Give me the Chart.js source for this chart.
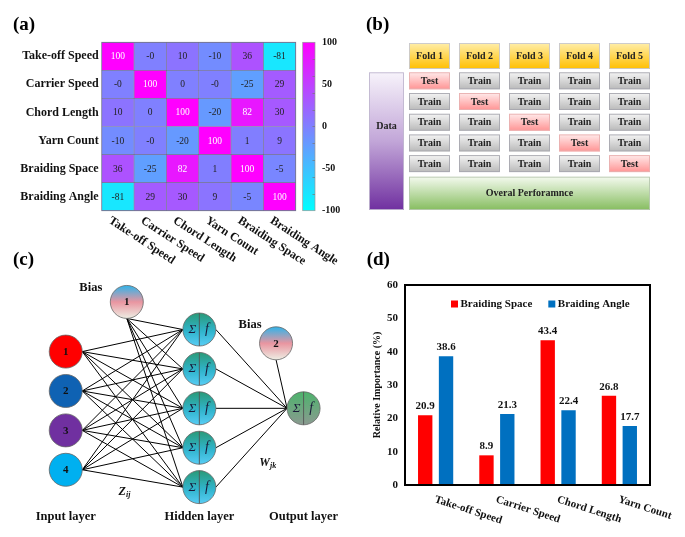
<!DOCTYPE html>
<html>
<head>
<meta charset="utf-8">
<script src="https://cdn.jsdelivr.net/npm/chart.js@4.4.1/dist/chart.umd.min.js"></script>
<style>
  body { margin: 0; background: #fff; }
  #page { position: relative; width: 685px; height: 537px; overflow: hidden; background: #fff; }
  canvas { position: absolute; }
</style>
</head>
<body>
<div id="page">
  <canvas id="heat" width="345" height="265" style="left:0;top:0"></canvas>
  <canvas id="cbar" width="60" height="265" style="left:296px;top:0"></canvas>
  <canvas id="folds" width="340" height="265" style="left:345px;top:0"></canvas>
  <canvas id="net" width="345" height="297" style="left:0;top:240px"></canvas>
  <canvas id="bars" width="340" height="297" style="left:345px;top:240px"></canvas>
</div>
<script>
const FONT = '"Liberation Serif", "Times New Roman", serif';

//DATA
// (a) correlation matrix
const params = ["Take-off Speed", "Carrier Speed", "Chord Length", "Yarn Count", "Braiding Space", "Braiding Angle"];
const corr = [
  [100, -0, 10, -10, 36, -81],
  [-0, 100, 0, -0, -25, 29],
  [10, 0, 100, -20, 82, 30],
  [-10, -0, -20, 100, 1, 9],
  [36, -25, 82, 1, 100, -5],
  [-81, 29, 30, 9, -5, 100],
];
const cbarTicks = [-100, -50, 0, 50, 100];

// (b) 5-fold cross validation
const folds = ["Fold 1", "Fold 2", "Fold 3", "Fold 4", "Fold 5"];
const testRowOfFold = [0, 1, 2, 3, 4];

// (c) network
const inputNodes = ["1", "2", "3", "4"];
const hiddenCount = 5;
const biasNodes = ["1", "2"];
const layerNames = ["Input layer", "Hidden layer", "Output layer"];

// (d) relative importance
const factors = ["Take-off Speed", "Carrier Speed", "Chord Length", "Yarn Count"];
const spaceImp = [20.9, 8.9, 43.4, 26.8];
const angleImp = [38.6, 21.3, 22.4, 17.7];
const impTicks = [0, 10, 20, 30, 40, 50, 60];

//HELPERS
function cool(v) {
  let t = (v + 100) / 200;
  return `rgb(${Math.round(255 * t)},${Math.round(255 * (1 - t))},255)`;
}
function fmt(v) {
  return Object.is(v, -0) ? "-0" : String(v);
}
function panelTitle(ctx, txt, x, y) {
  ctx.save();
  ctx.font = `bold 19px ${FONT}`;
  ctx.fillStyle = "#000";
  ctx.textAlign = "left";
  ctx.textBaseline = "alphabetic";
  ctx.fillText(txt, x, y);
  ctx.restore();
}
function vgrad(ctx, top, bottom, stops) {
  let g = ctx.createLinearGradient(0, top, 0, bottom);
  stops.forEach(([o, c]) => g.addColorStop(o, c));
  return g;
}

/////////////////////// (a) HEATMAP ///////////////////////
const heatDeco = {
  id: "heatDeco",
  afterDatasetsDraw(chart) {
    const { ctx, chartArea: a, scales: { x, y } } = chart;
    ctx.save();
    ctx.font = `9.5px ${FONT}`;
    ctx.textAlign = "center";
    ctx.textBaseline = "middle";
    chart.data.datasets.forEach((ds, j) => {
      chart.getDatasetMeta(j).data.forEach((bar, i) => {
        let v = corr[i][j];
        let c = bar.getCenterPoint();
        ctx.fillStyle = v > 60 ? "#ffffff" : "#222";
        ctx.fillText(fmt(v), c.x, c.y + 0.5);
      });
    });
    ctx.strokeStyle = "rgba(70,70,110,0.7)";
    ctx.lineWidth = 0.8;
    ctx.strokeRect(a.left, a.top, a.right - a.left, a.bottom - a.top);

    ctx.fillStyle = "#111";
    ctx.font = `bold 12px ${FONT}`;
    ctx.textAlign = "right";
    params.forEach((p, i) => ctx.fillText(p, a.left - 3, y.getPixelForValue(i)));

    ctx.textAlign = "left";
    ctx.textBaseline = "top";
    params.forEach((p, j) => {
      ctx.save();
      ctx.translate(x.getPixelForValue(j + 0.5) - 5, a.bottom + 4);
      ctx.rotate((33 * Math.PI) / 180);
      ctx.fillText(p, 0, 0);
      ctx.restore();
    });
    ctx.restore();
    panelTitle(ctx, "(a)", 13, 30);
  },
};

new Chart(document.getElementById("heat"), {
  type: "bar",
  data: {
    labels: params,
    datasets: params.map((p, j) => ({
      label: p,
      data: params.map(() => 1),
      backgroundColor: corr.map((row) => cool(row[j])),
      borderColor: "rgba(70,70,110,0.55)",
      borderWidth: 0.7,
      borderSkipped: false,
      categoryPercentage: 1,
      barPercentage: 1,
    })),
  },
  options: {
    indexAxis: "y",
    responsive: false,
    animation: false,
    layout: { padding: { left: 101.7, top: 42.3, right: 345 - 295.7, bottom: 265 - 210.7 } },
    plugins: { legend: { display: false }, tooltip: { enabled: false } },
    scales: {
      x: { stacked: true, min: 0, max: 6, display: false },
      y: { stacked: true, display: false },
    },
  },
  plugins: [heatDeco],
});

// colour bar
const cbarDeco = {
  id: "cbarDeco",
  afterDatasetsDraw(chart) {
    const { ctx, chartArea: a, scales: { y } } = chart;
    ctx.save();
    ctx.strokeStyle = "#999";
    ctx.lineWidth = 0.7;
    ctx.strokeRect(a.left, a.top, a.right - a.left, a.bottom - a.top);
    ctx.strokeStyle = "#777";
    for (let v = -80; v <= 80; v += 20) {
      let py = Math.round(y.getPixelForValue(v)) + 0.5;
      ctx.beginPath();
      ctx.moveTo(a.right - 2.5, py);
      ctx.lineTo(a.right, py);
      ctx.stroke();
    }
    ctx.restore();
  },
};

new Chart(document.getElementById("cbar"), {
  type: "bar",
  data: {
    labels: [""],
    datasets: [
      {
        data: [[-100, 100]],
        backgroundColor: (c) => {
          const a = c.chart.chartArea;
          if (!a) return cool(0);
          return vgrad(c.chart.ctx, a.bottom, a.top, [[0, cool(-100)], [0.5, cool(0)], [1, cool(100)]]);
        },
        categoryPercentage: 1,
        barPercentage: 1,
        borderSkipped: false,
      },
    ],
  },
  options: {
    responsive: false,
    animation: false,
    layout: { padding: { left: 6.7, top: 42.3, bottom: 265 - 210.7, right: 6 } },
    plugins: { legend: { display: false }, tooltip: { enabled: false } },
    scales: {
      x: { display: false },
      y: {
        position: "right",
        min: -100,
        max: 100,
        afterBuildTicks: (s) => {
          s.ticks = cbarTicks.map((v) => ({ value: v }));
        },
        afterFit: (s) => {
          s.width = 35;
        },
        grid: { display: false, drawTicks: false },
        border: { display: false },
        ticks: { padding: 7, color: "#111", font: { family: FONT, weight: "bold", size: 10 } },
      },
    },
  },
  plugins: [cbarDeco],
});

/////////////////////// (b) FOLDS ///////////////////////
const CELL_W = 0.82, CELL_H = 0.82;
const foldDeco = {
  id: "foldDeco",
  afterDatasetsDraw(chart) {
    const { ctx, scales: { x, y } } = chart;
    function box(u0, v0, u1, v1, stops, stroke, label) {
      let L = x.getPixelForValue(u0), R = x.getPixelForValue(u1);
      let T = y.getPixelForValue(v0), B = y.getPixelForValue(v1);
      ctx.fillStyle = vgrad(ctx, T, B, stops);
      ctx.fillRect(L, T, R - L, B - T);
      ctx.lineWidth = 0.9;
      ctx.strokeStyle = stroke;
      ctx.strokeRect(L + 0.5, T + 0.5, R - L - 1, B - T - 1);
      if (label) {
        ctx.fillStyle = "#222";
        ctx.fillText(label, (L + R) / 2, (T + B) / 2 + 0.5);
      }
    }
    ctx.save();
    ctx.font = `bold 10px ${FONT}`;
    ctx.textAlign = "center";
    ctx.textBaseline = "middle";
    const trainC = [[0, "#f4f4f4"], [1, "#b9b9b9"]];
    const testC = [[0, "#ffeaea"], [1, "#ff9494"]];
    const headC = [[0, "#ffeeaa"], [1, "#ffbf00"]];
    folds.forEach((f, i) => {
      box(i, -1.415, i + CELL_W, -0.16, headC, "#c8c8d0", f);
      for (let r = 0; r < 5; r++) {
        let isTest = testRowOfFold[i] === r;
        box(i, r, i + CELL_W, r + CELL_H, isTest ? testC : trainC, isTest ? "#e8b0b0" : "#a8a8b0", isTest ? "Test" : "Train");
      }
    });
    box(0, 5.04, 4 + CELL_W, 6.65, [[0, "#f4faef"], [1, "#86bd5f"]], "#b8c8b0", "Overal Perforamnce");
    box(-0.8, 0, -0.1, 6.65, [[0, "#f7f3fb"], [0.5, "#c2a6d8"], [1, "#7030a0"]], "#c0b8d0", null);
    ctx.fillStyle = "#222";
    ctx.fillText("Data", (x.getPixelForValue(-0.8) + x.getPixelForValue(-0.1)) / 2, y.getPixelForValue(2.6));
    ctx.restore();
    panelTitle(ctx, "(b)", 21, 30);
  },
};

new Chart(document.getElementById("folds"), {
  type: "scatter",
  data: { datasets: [{ data: [], pointRadius: 0 }] },
  options: {
    responsive: false,
    animation: false,
    layout: { padding: { left: 24, right: 35, top: 43, bottom: 55 } },
    plugins: { legend: { display: false }, tooltip: { enabled: false } },
    scales: {
      x: { min: -0.8, max: 4.82, display: false },
      y: { min: -1.415, max: 6.65, reverse: true, display: false },
    },
  },
  plugins: [foldDeco],
});

/////////////////////// (c) NETWORK ///////////////////////
// layout in layer units (x) and node-pitch units (y)
const NODE_R = 16.5;
const RX = 0.1235, RY = 0.419;
const netX = { input: 0, bias1: 0.457, hidden: 1, bias2: 1.574, output: 1.78 };
const inputPos = inputNodes.map((n, i) => ({ x: netX.input, y: i - (inputNodes.length - 1) / 2 + 0.06 }));
const hiddenPos = Array.from({ length: hiddenCount }, (_, i) => ({ x: netX.hidden, y: i - (hiddenCount - 1) / 2 }));
const bias1Pos = { x: netX.bias1, y: -2.7 };
const bias2Pos = { x: netX.bias2, y: -1.65 };
const outPos = { x: netX.output, y: 0 };

let edges = [];
inputPos.forEach((p) => hiddenPos.forEach((h) => edges.push([{ x: p.x + RX, y: p.y }, { x: h.x - RX, y: h.y }])));
hiddenPos.forEach((h) => edges.push([{ x: bias1Pos.x, y: bias1Pos.y + RY }, { x: h.x - RX, y: h.y }]));
hiddenPos.forEach((h) => edges.push([{ x: h.x + RX, y: h.y }, { x: outPos.x - RX, y: outPos.y }]));
edges.push([{ x: bias2Pos.x, y: bias2Pos.y + RY }, { x: outPos.x - RX, y: outPos.y }]);

const netDeco = {
  id: "netDeco",
  afterDatasetsDraw(chart) {
    const { ctx, scales: { x, y } } = chart;
    function circle(p, fill) {
      let cx = x.getPixelForValue(p.x), cy = y.getPixelForValue(p.y);
      ctx.beginPath();
      ctx.arc(cx, cy, NODE_R, 0, Math.PI * 2);
      ctx.fillStyle = typeof fill === "function" ? fill(cy) : fill;
      ctx.fill();
      ctx.lineWidth = 0.8;
      ctx.strokeStyle = "#666";
      ctx.stroke();
      return [cx, cy];
    }
    function numText(txt, cx, cy) {
      ctx.font = `bold 11px ${FONT}`;
      ctx.fillStyle = "#111";
      ctx.textAlign = "center";
      ctx.textBaseline = "middle";
      ctx.fillText(txt, cx, cy + 0.5);
    }
    function sumNode(p, stops) {
      let [cx, cy] = circle(p, (cy) => vgrad(ctx, cy - NODE_R, cy + NODE_R, stops));
      ctx.strokeStyle = "#555";
      ctx.lineWidth = 0.9;
      ctx.beginPath();
      ctx.moveTo(cx, cy - NODE_R);
      ctx.lineTo(cx, cy + NODE_R);
      ctx.stroke();
      ctx.fillStyle = "#1a1a3a";
      ctx.textAlign = "center";
      ctx.textBaseline = "middle";
      ctx.font = `italic 13px ${FONT}`;
      ctx.fillText("\u03A3", cx - 7, cy);
      ctx.font = `italic 14px ${FONT}`;
      ctx.fillText("f", cx + 7.5, cy);
    }
    ctx.save();
    const inputColors = ["#ff0000", "#0f62b3", "#7030a0", "#00b0f0"];
    inputPos.forEach((p, i) => {
      let [cx, cy] = circle(p, inputColors[i]);
      numText(inputNodes[i], cx, cy);
    });
    const biasStops = [[0, "#2fb4ea"], [0.5, "#e995a0"], [1, "#eeeee4"]];
    [bias1Pos, bias2Pos].forEach((p, i) => {
      let [cx, cy] = circle(p, (cy) => vgrad(ctx, cy - NODE_R, cy + NODE_R, biasStops));
      numText(biasNodes[i], cx, cy);
    });
    hiddenPos.forEach((p) => sumNode(p, [[0, "#2a9a78"], [0.55, "#30b4cc"], [1, "#58cdf5"]]));
    sumNode(outPos, [[0, "#4db36c"], [1, "#8a9a90"]]);

    // labels
    ctx.fillStyle = "#111";
    ctx.font = `bold 12.5px ${FONT}`;
    ctx.textAlign = "center";
    ctx.textBaseline = "middle";
    ctx.fillText("Bias", x.getPixelForValue(bias1Pos.x) - 36, y.getPixelForValue(bias1Pos.y) - 14);
    ctx.fillText("Bias", x.getPixelForValue(bias2Pos.x) - 26, y.getPixelForValue(bias2Pos.y) - 19);
    [netX.input, netX.hidden, netX.output].forEach((lx, i) => {
      ctx.fillText(layerNames[i], x.getPixelForValue(lx), y.getPixelForValue(2.75));
    });
    function subLabel(main, sub, px, py) {
      ctx.textAlign = "left";
      ctx.font = `bold italic 12px ${FONT}`;
      let w = ctx.measureText(main).width;
      ctx.fillText(main, px, py);
      ctx.font = `bold italic 8px ${FONT}`;
      ctx.fillText(sub, px + w, py + 3);
    }
    subLabel("Z", "ij", x.getPixelForValue(0.448) - 7, y.getPixelForValue(2.12));
    subLabel("W", "jk", x.getPixelForValue(1.516) - 9, y.getPixelForValue(1.39));
    ctx.restore();
    panelTitle(ctx, "(c)", 13, 25);
  },
};

new Chart(document.getElementById("net"), {
  type: "scatter",
  data: {
    datasets: edges.map((e) => ({
      data: e,
      showLine: true,
      borderColor: "#000",
      borderWidth: 1,
      pointRadius: 0,
    })),
  },
  options: {
    responsive: false,
    animation: false,
    layout: { padding: 0 },
    plugins: { legend: { display: false }, tooltip: { enabled: false } },
    scales: {
      x: { min: -0.492, max: 2.09, display: false },
      y: { min: -4.272, max: 3.266, reverse: true, display: false },
    },
  },
  plugins: [netDeco],
});

/////////////////////// (d) BAR CHART ///////////////////////
const barDeco = {
  id: "barDeco",
  afterDatasetsDraw(chart) {
    const { ctx, chartArea: a, scales: { x } } = chart;
    ctx.save();
    // values
    ctx.fillStyle = "#111";
    ctx.font = `bold 11px ${FONT}`;
    ctx.textAlign = "center";
    ctx.textBaseline = "alphabetic";
    chart.data.datasets.forEach((ds, d) => {
      chart.getDatasetMeta(d).data.forEach((bar, i) => {
        ctx.fillText(ds.data[i].toFixed(1), bar.x, bar.y - 6);
      });
    });
    // frame
    ctx.strokeStyle = "#000";
    ctx.lineWidth = 2;
    ctx.strokeRect(a.left, a.top, a.right - a.left, a.bottom - a.top);
    // legend
    let lx = a.left + 46;
    let ly = a.top + 19;
    ctx.textBaseline = "middle";
    ctx.textAlign = "left";
    chart.data.datasets.forEach((ds) => {
      ctx.fillStyle = ds.backgroundColor;
      ctx.fillRect(lx, ly - 3.5, 7, 7);
      ctx.fillStyle = "#111";
      ctx.fillText(ds.label, lx + 9.5, ly + 0.5);
      lx += 9.5 + ctx.measureText(ds.label).width + 16;
    });
    // category labels
    ctx.textBaseline = "top";
    chart.data.labels.forEach((lab, i) => {
      ctx.save();
      ctx.translate(x.getPixelForValue(i) + 1, a.bottom + 9);
      ctx.rotate((18 * Math.PI) / 180);
      ctx.fillText(lab, 0, 0);
      ctx.restore();
    });
    ctx.restore();
    panelTitle(ctx, "(d)", 21.7, 25);
  },
};

new Chart(document.getElementById("bars"), {
  type: "bar",
  data: {
    labels: factors,
    datasets: [
      { label: "Braiding Space", data: spaceImp, backgroundColor: "#ff0000" },
      { label: "Braiding Angle", data: angleImp, backgroundColor: "#0070c0" },
    ],
  },
  options: {
    responsive: false,
    animation: false,
    datasets: { bar: { categoryPercentage: 0.68, barPercentage: 0.69 } },
    layout: { padding: { left: 26, right: 35, top: 45, bottom: 52 } },
    plugins: { legend: { display: false }, tooltip: { enabled: false } },
    scales: {
      x: { display: false },
      y: {
        min: 0,
        max: 60,
        afterBuildTicks: (s) => {
          s.ticks = impTicks.map((v) => ({ value: v }));
        },
        afterFit: (s) => {
          s.width = 34;
        },
        grid: { display: false, drawTicks: false },
        border: { display: false },
        ticks: { padding: 7, color: "#111", font: { family: FONT, weight: "bold", size: 11 } },
        title: {
          display: true,
          text: "Relative Importance (%)",
          color: "#111",
          padding: 0,
          font: { family: FONT, weight: "bold", size: 10 },
        },
      },
    },
  },
  plugins: [barDeco],
});
</script>
</body>
</html>
